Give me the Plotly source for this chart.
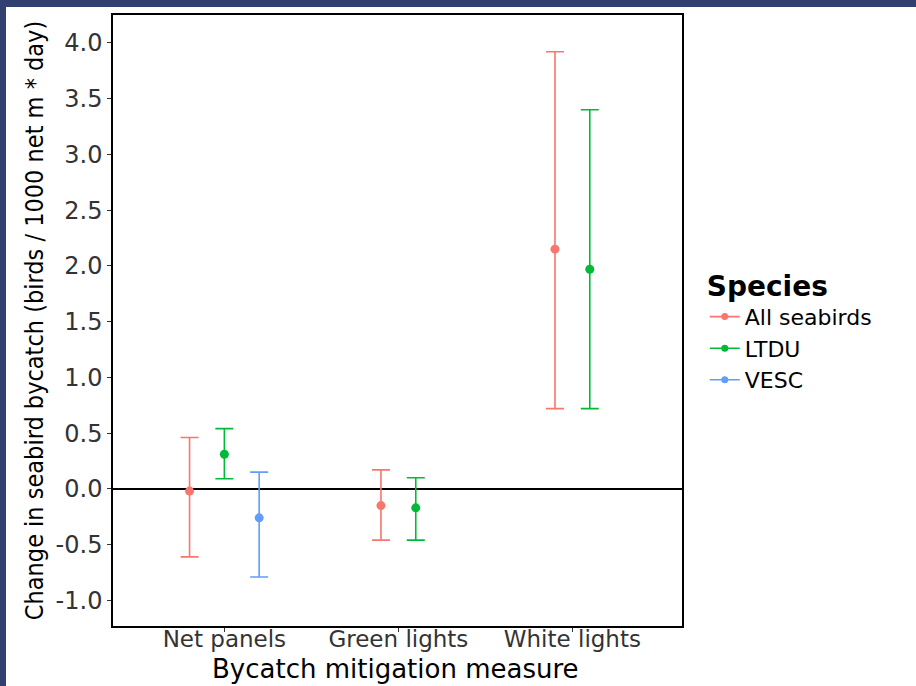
import plotly.graph_objects as go

# ---- data ----
categories = ["Net panels", "Green lights", "White lights"]
species = ["All seabirds", "LTDU", "VESC"]

all_mean = [-0.02, -0.15, 2.15]
all_low = [-0.61, -0.46, 0.72]
all_high = [0.46, 0.17, 3.92]

ltdu_mean = [0.31, -0.17, 1.97]
ltdu_low = [0.09, -0.46, 0.72]
ltdu_high = [0.54, 0.10, 3.40]

vesc_cats = ["Net panels"]
vesc_mean = [-0.26]
vesc_low = [-0.79]
vesc_high = [0.15]

y_ticks = [-1.0, -0.5, 0.0, 0.5, 1.0, 1.5, 2.0, 2.5, 3.0, 3.5, 4.0]

x_title = "Bycatch mitigation measure"
y_title = "Change in seabird bycatch (birds / 1000 net m * day)"

colors = {"All seabirds": "#F8766D", "LTDU": "#00BA38", "VESC": "#619CFF"}

series = {
    "All seabirds": (categories, all_mean, all_low, all_high),
    "LTDU": (categories, ltdu_mean, ltdu_low, ltdu_high),
    "VESC": (vesc_cats, vesc_mean, vesc_low, vesc_high),
}

# dodge: groups present in each category
dodge_w = 0.2
present = {c: [s for s in species if c in series[s][0]] for c in categories}

fig = go.Figure()
for s in species:
    cats, mean, low, high = series[s]
    xs = []
    for c in cats:
        grp = present[c]
        i = grp.index(s)
        xs.append(categories.index(c) + 1 + (i - (len(grp) - 1) / 2) * dodge_w)
    fig.add_trace(go.Scatter(
        x=xs, y=mean, mode="markers", name=s, showlegend=False,
        marker=dict(color=colors[s], size=9),
        error_y=dict(type="data", symmetric=False,
                     array=[h - m for h, m in zip(high, mean)],
                     arrayminus=[m - l for m, l in zip(mean, low)],
                     color=colors[s], thickness=1.6, width=9),
    ))
    # legend entry (line + dot)
    fig.add_trace(go.Scatter(
        x=[None], y=[None], mode="lines+markers", name=s,
        line=dict(color=colors[s], width=1.6),
        marker=dict(color=colors[s], size=7),
    ))

BG = "#31416f"
L, R, T, B = 113, 234, 15, 60
PW, PH = 916 - L - R, 686 - T - B
fig.add_shape(type="rect", xref="paper", yref="paper",
              x0=(6 - L) / PW, x1=2.0,
              y0=-1.0, y1=(686 - 7 - B) / PH,
              fillcolor="white", line=dict(width=0), layer="below")

fig.add_annotation(text=x_title, xref="paper", yref="paper",
                   x=(395 - L) / PW, y=-(669 - (686 - B)) / PH,
                   xanchor="center", yanchor="middle", showarrow=False,
                   font=dict(family="DejaVu Sans, Arial", size=26, color="black"))

fig.update_layout(
    width=916, height=686,
    paper_bgcolor=BG, plot_bgcolor="white",
    margin=dict(l=L, r=R, t=T, b=B, autoexpand=False),
    xaxis=dict(
        range=[0.36, 3.63], tickvals=[1, 2, 3], ticktext=categories,
        showline=True, linecolor="black", linewidth=1.5, mirror=True,
        ticks="outside", ticklen=4, tickcolor="#333333",
        showgrid=False, zeroline=False, automargin=False,
        ticklabelstandoff=-12,
        tickfont=dict(family="DejaVu Sans, Arial", size=23, color="#333333"),
    ),
    yaxis=dict(
        range=[-1.23, 4.25], tickvals=y_ticks,
        ticktext=[f"{v:.1f}" for v in y_ticks],
        showline=True, linecolor="black", linewidth=1.5, mirror=True,
        ticks="outside", ticklen=4, tickcolor="#333333",
        showgrid=False, zeroline=True, zerolinecolor="black", zerolinewidth=1.5,
        automargin=False,
        tickfont=dict(family="DejaVu Sans, Arial", size=24, color="#333333"),
        title=dict(text=y_title, standoff=5,
                   font=dict(family="Liberation Sans Narrow, DejaVu Sans Condensed, Arial",
                             size=25, color="black")),
    ),
    legend=dict(
        x=1.04, y=0.6, xanchor="left", yanchor="top",
        bgcolor="rgba(0,0,0,0)",
        title=dict(text="<b>Species</b>",
                   font=dict(family="DejaVu Sans, Arial", size=28, color="black")),
        font=dict(family="DejaVu Sans, Arial", size=22, color="black"),
        tracegroupgap=0, itemwidth=30,
    ),
)

fig.write_html("out.html", config={"displayModeBar": False},
               post_script="document.body.style.margin='0px';document.body.style.overflow='hidden';")
